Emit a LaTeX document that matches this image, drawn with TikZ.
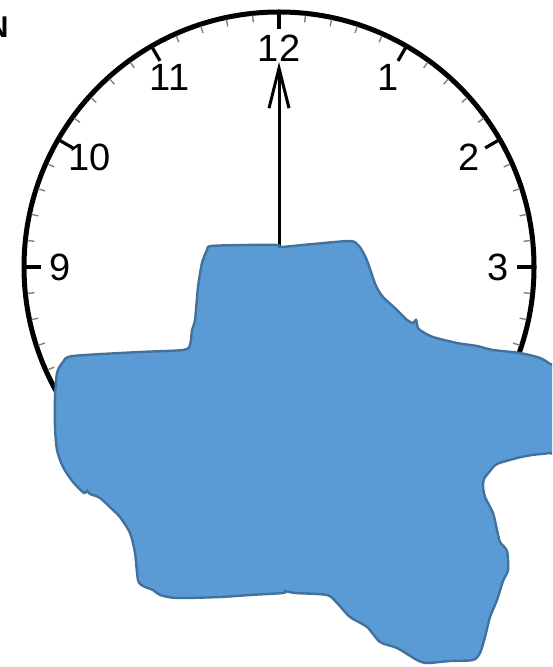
\documentclass[tikz,border=0pt]{standalone}
\usepackage{fontspec}
\setmainfont{Liberation Sans}
\usetikzlibrary{arrows.meta}
\definecolor{blobblue}{HTML}{5B9BD5}
\definecolor{blobedge}{HTML}{41719C}

\begin{document}
\begin{tikzpicture}[
  x=0.5pt, y=-0.5pt,
  rim/.style={draw=black, line width=2.5pt},
  minortick/.style={draw=black!50, line width=0.7pt},
  majortick/.style={draw=black, line width=1.6pt},
  numeral/.style={inner sep=0pt, font=\fontsize{19}{19}\selectfont},
  hand/.style={-{Straight Barb[length=20pt,width=10pt]}, line width=1.5pt},
  blob/.style={fill=blobblue, draw=blobedge, line width=1.2pt}
]
\useasboundingbox (0,0) rectangle (552,667);
\clip (0,0) rectangle (552,667);

\node[font=\fontsize{15}{15}\selectfont\bfseries, anchor=east, inner sep=0pt] (cut) at (9,27) {N};

% Clock face
\coordinate (hub) at (279,267);
\coordinate (tip) at (279,62);
\draw[rim] (hub) circle[radius=127.5pt];
\foreach \i in {0,...,59}
  \draw[minortick, shift={(hub)}] (6*\i:253) -- (6*\i:246);
\foreach \h in {1,...,12}
  \draw[majortick, shift={(hub)}] (30*\h-90:253) -- (30*\h-90:238);
\foreach \h in {9,10,11,12,1,2,3}
  \node[numeral] (h\h) at ([shift={(30*\h-90:219)}]hub) {\h};

% Hand pointing at 12
\draw[hand] (hub) -- (tip);

% Blob over the lower half
\draw[blob] plot[smooth cycle, tension=0.45] coordinates {
  (211,246) (245,245) (277,245) (281,247) (313,244) (350,241) (358,245)
  (363,252) (368,263) (373,278) (377,288) (383,297) (397,310) (407,320)
  (413,323) (416,320) (418,328) (423,332) (433,337) (457,343) (477,346)
  (493,350) (520,353) (540,358) (550,364) (558,372) (558,450) (550,453)
  (532,455) (517,458) (497,464) (490,471) (484,479) (483,486) (485,497)
  (493,513) (497,530) (500,542) (507,551) (508,570) (503,581) (497,600)
  (490,617) (485,637) (480,653) (473,660) (450,661) (427,663) (417,660)
  (397,648) (380,642) (367,627) (350,617) (337,603) (327,595) (295,593)
  (285,591) (283,593) (250,595) (220,597) (177,598) (160,595) (153,590)
  (143,586) (138,580) (135,553) (130,533) (120,517) (113,510) (100,498)
  (90,494) (87,491) (84,493) (73,482) (63,467) (57,450) (55,427) (55,397)
  (57,373) (63,362) (73,356) (140,352) (183,350) (190,345) (192,330)
  (195,320) (198,287) (202,263) (207,250)
};

\end{tikzpicture}
\end{document}
